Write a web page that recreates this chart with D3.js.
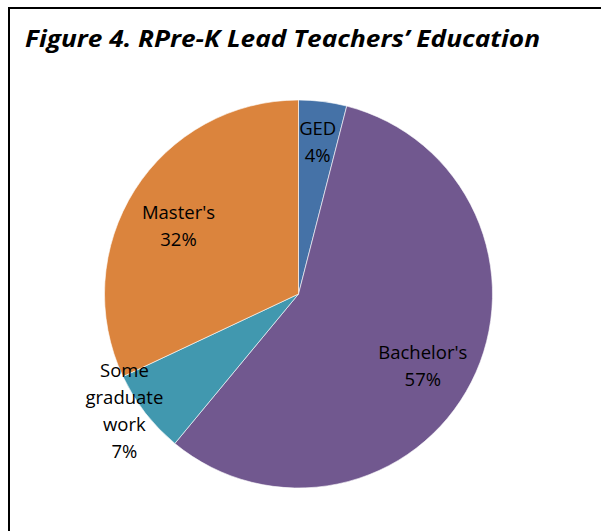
<!DOCTYPE html>
<html>
<head>
<meta charset="utf-8">
<script src="https://cdn.jsdelivr.net/npm/d3@7"></script>
<style>
  html, body { margin: 0; padding: 0; background: #fff; }
  svg { display: block; }
  .title { font-family: "Open Sans", Lato, sans-serif; font-weight: bold; font-style: italic; }
  .label { font-family: "Open Sans", Lato, sans-serif; fill: #000; }
</style>
</head>
<body>
<svg id="chart" width="601" height="531"></svg>
<script>
// data, clockwise from 12 o'clock
const categories = ["GED", "Bachelor's", "Some graduate work", "Master's"];
const percents = [4, 57, 7, 32];
const colors = ["#4572A7", "#71588F", "#4198AF", "#DB843D"];

// where each label sits, as a fraction of the radius (Excel "best fit")
const labelRadius = { "GED": 0.79, "Bachelor's": 0.74, "Some graduate work": 1.08, "Master's": 0.71 };
const labelAngleShift = { "GED": 0, "Bachelor's": 3, "Some graduate work": 4, "Master's": -3 }; // degrees

const width = 601, height = 531;
const cx = 298.5, cy = 294, radius = 194;

const svg = d3.select("#chart");

// frame (runs off the right and bottom edges)
svg.append("rect")
  .attr("x", 9).attr("y", 8)
  .attr("width", 700).attr("height", 700)
  .attr("fill", "none").attr("stroke", "#000").attr("stroke-width", 2);

svg.append("text")
  .attr("class", "title")
  .attr("x", 25).attr("y", 47)
  .attr("font-size", 24)
  .attr("textLength", 515)
  .attr("lengthAdjust", "spacingAndGlyphs")
  .text("Figure 4. RPre-K Lead Teachers\u2019 Education");

const rows = categories.map((c, i) => ({ name: c, value: percents[i], color: colors[i] }));

const pie = d3.pie().sort(null).value(d => d.value);
const arc = d3.arc().innerRadius(0).outerRadius(radius);

const g = svg.append("g").attr("transform", `translate(${cx},${cy})`);

const arcs = pie(rows);

g.selectAll("path.slice")
  .data(arcs)
  .join("path")
  .attr("class", "slice")
  .attr("d", arc)
  .attr("fill", d => d.data.color)
  .attr("stroke", "#fff")
  .attr("stroke-opacity", 0.6)
  .attr("stroke-width", 1);

const lineH = 27;
g.selectAll("text.label")
  .data(arcs)
  .join("text")
  .attr("class", "label")
  .attr("font-size", 18.5)
  .attr("text-anchor", "middle")
  .each(function (d) {
    const name = d.data.name;
    const mid = (d.startAngle + d.endAngle) / 2 + (labelAngleShift[name] * Math.PI / 180);
    const r = radius * labelRadius[name];
    const x = r * Math.sin(mid), y = -r * Math.cos(mid);
    const lines = name.split(" ").concat([d.data.value + "%"]);
    const t = d3.select(this);
    const top = y - (lines.length - 1) * lineH / 2;
    lines.forEach((ln, k) => {
      t.append("tspan")
        .attr("x", x)
        .attr("y", top + k * lineH)
        .attr("dy", "0.35em")
        .text(ln);
    });
  });
</script>
</body>
</html>
